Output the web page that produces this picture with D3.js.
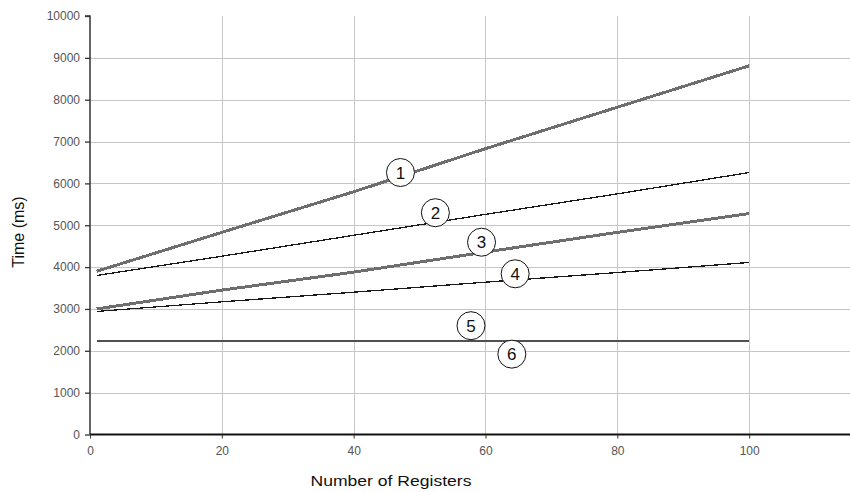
<!DOCTYPE html>
<html>
<head>
<meta charset="utf-8">
<script src="https://cdn.jsdelivr.net/npm/d3@7"></script>
<style>
  html, body { margin: 0; padding: 0; background: #fff; }
  svg { display: block; font-family: "Liberation Sans", Arial, sans-serif; }
</style>
</head>
<body>
<svg id="chart" width="850" height="492"></svg>
<script>
// Register counts sampled along the x axis
const registers = [1, 20, 40, 60, 80, 100];

// Response time (ms) for each numbered configuration
const series1 = [3900, 4830, 5800, 6830, 7820, 8810];
const series2 = [3800, 4260, 4760, 5260, 5750, 6260];
const series3 = [3000, 3450, 3880, 4360, 4830, 5280];
const series4 = [2940, 3170, 3400, 3640, 3870, 4110];
const series5 = [2240, 2240, 2240, 2240, 2240, 2240];
const series6 = [2240, 2240, 2240, 2240, 2240, 2240];

// Axis ticks
const yTicks = [0, 1000, 2000, 3000, 4000, 5000, 6000, 7000, 8000, 9000, 10000];
const xTicks = [0, 20, 40, 60, 80, 100];

// Numbered callouts (register, time) identifying each line
const calloutIds = ["1", "2", "3", "4", "5", "6"];
const calloutX = [47.1, 52.4, 59.4, 64.5, 57.8, 64.0];
const calloutY = [6260, 5300, 4595, 3840, 2600, 1920];

const styles = [
  { color: "#6e6e6e", width: 3 },
  { color: "#1a1a1a", width: 1.3 },
  { color: "#6e6e6e", width: 3 },
  { color: "#1a1a1a", width: 1.3 },
  { color: "#505050", width: 1.8 },
  { color: "#505050", width: 1.8 }
];
const allSeries = [series1, series2, series3, series4, series5, series6];

const svg = d3.select("#chart");
const plotLeft = 90, plotTop = 16, plotBottom = 434.5, plotRight = 850;

const x = d3.scaleLinear().domain([0, 115.3]).range([plotLeft, plotRight]);
const y = d3.scaleLinear().domain([0, 10000]).range([plotBottom, plotTop]);

// Grid
const grid = svg.append("g").attr("stroke", "#c6c6c6").attr("stroke-width", 1);
grid.selectAll("line.h").data(yTicks.filter(t => t > 0 && t < 10000)).join("line")
  .attr("class", "h")
  .attr("x1", plotLeft).attr("x2", plotRight)
  .attr("y1", d => Math.round(y(d)) + 0.5).attr("y2", d => Math.round(y(d)) + 0.5);
grid.selectAll("line.v").data(xTicks.filter(t => t > 0)).join("line")
  .attr("class", "v")
  .attr("y1", plotTop).attr("y2", plotBottom)
  .attr("x1", d => Math.round(x(d)) + 0.5).attr("x2", d => Math.round(x(d)) + 0.5);

// Y axis
const yAxis = d3.axisLeft(y).tickValues(yTicks).tickSize(5).tickPadding(5).tickFormat(d3.format("d"));
const gy = svg.append("g").attr("transform", `translate(${plotLeft},0)`).call(yAxis);
gy.select(".domain").attr("stroke", "#333").attr("stroke-width", 1.5).attr("d", `M-5,${plotTop}H0V${plotBottom}`);
gy.selectAll(".tick line").attr("stroke", "#333").attr("stroke-width", 1.3);
gy.selectAll(".tick text").attr("fill", "#555").style("font-size", "12px")
  .style("font-family", "Liberation Sans, Arial, sans-serif");

// X axis
const xAxis = d3.axisBottom(x).tickValues(xTicks).tickSize(4).tickPadding(8);
const gx = svg.append("g").attr("transform", `translate(0,${plotBottom})`).call(xAxis);
gx.select(".domain").attr("stroke", "#111").attr("stroke-width", 2).attr("d", `M${plotLeft},0H${plotRight}`);
gx.selectAll(".tick line").attr("stroke", "#333");
gx.selectAll(".tick text").attr("fill", "#555").style("font-size", "12px")
  .style("font-family", "Liberation Sans, Arial, sans-serif");

// Lines
const line = d3.line().x((d, i) => x(registers[i])).y(d => y(d));
svg.append("g").selectAll("path").data(allSeries).join("path")
  .attr("fill", "none")
  .attr("stroke", (d, i) => styles[i].color)
  .attr("stroke-width", (d, i) => styles[i].width)
  .attr("shape-rendering", "crispEdges")
  .attr("d", line);

// Callouts
const cg = svg.append("g").selectAll("g").data(calloutIds).join("g")
  .attr("transform", (d, i) => `translate(${x(calloutX[i])},${y(calloutY[i])})`);
cg.append("circle").attr("r", 14).attr("fill", "#fff").attr("stroke", "#111").attr("stroke-width", 1);
cg.append("text").attr("text-anchor", "middle").attr("dy", "0.36em")
  .style("font-size", "17px").attr("fill", "#111").text(d => d);

// Axis titles
svg.append("text")
  .attr("transform", `translate(24,232) rotate(-90)`)
  .attr("text-anchor", "middle")
  .style("font-size", "16px").attr("fill", "#111")
  .text("Time (ms)");
svg.append("text")
  .attr("x", 391).attr("y", 486)
  .attr("text-anchor", "middle")
  .attr("textLength", 161).attr("lengthAdjust", "spacingAndGlyphs")
  .style("font-size", "15px").attr("fill", "#111")
  .text("Number of Registers");
</script>
</body>
</html>
